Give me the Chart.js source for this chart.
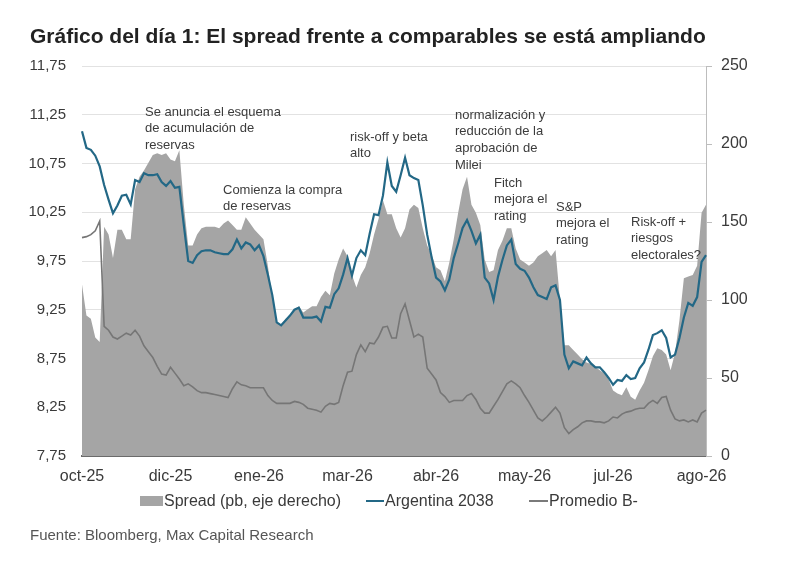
<!DOCTYPE html>
<html>
<head>
<meta charset="utf-8">
<script src="https://cdn.jsdelivr.net/npm/chart.js@4.4.1/dist/chart.umd.min.js"></script>
<style>
  html, body { margin:0; padding:0; background:#fff; }
  body { width:800px; height:562px; position:relative; overflow:hidden; font-family:"Liberation Sans", Arial, sans-serif; }
  #wrap { position:absolute; left:0; top:0; width:800px; height:562px; }
  .txt { position:absolute; white-space:nowrap; color:#3a3a3a; }
  #title { left:30px; top:24px; font-size:21px; line-height:24px; font-weight:bold; color:#222; }
  #source { left:30px; top:526px; font-size:15px; line-height:18px; color:#555; }
  .leg { top:491px; font-size:16px; line-height:20px; }
  .swatch { position:absolute; }
</style>
</head>
<body>
<div id="wrap"><canvas id="c" width="800" height="562"></canvas></div>
<div id="title" class="txt">Gráfico del día 1: El spread frente a comparables se está ampliando</div>
<div class="swatch" style="left:140px;top:496px;width:23px;height:10px;background:#a5a5a5;"></div>
<div class="txt leg" style="left:164px;">Spread (pb, eje derecho)</div>
<div class="swatch" style="left:366px;top:500px;width:18px;height:2px;background:#236886;"></div>
<div class="txt leg" style="left:385px;">Argentina 2038</div>
<div class="swatch" style="left:529px;top:500px;width:19px;height:2px;background:#7a7a7a;"></div>
<div class="txt leg" style="left:549px;">Promedio B-</div>
<div id="source" class="txt">Fuente: Bloomberg, Max Capital Research</div>
<script>
// ---- Data ----
const tickLabels = ['oct-25','dic-25','ene-26','mar-26','abr-26','may-26','jul-26','ago-26'];
const tickEvery = 20;
const leftTicks = [7.75, 8.25, 8.75, 9.25, 9.75, 10.25, 10.75, 11.25, 11.75];

const spread = [
  110, 90, 88, 76, 73, 147, 142, 127, 145, 145,
  139, 139, 171, 179, 183, 188, 193, 194, 193, 194,
  190, 189, 196, 161, 135, 135, 142, 146, 147, 147,
  147, 146, 149, 151, 148, 145, 145, 153, 149, 145,
  142, 139, 122, 101, 86, 84, 88, 90, 94, 96,
  92, 94, 96, 96, 102, 106, 103, 117, 126, 133,
  128, 116, 108, 116, 121, 130, 142, 152, 164, 155,
  155, 146, 140, 146, 158, 161, 159, 146, 135, 129,
  121, 119, 112, 124, 139, 156, 171, 179, 161, 156,
  148, 126, 118, 119, 132, 138, 146, 146, 133, 126,
  124, 122, 124, 128, 130, 132, 128, 132, 100, 71,
  71, 68, 65, 62, 60, 59, 57, 55, 53, 49,
  42, 40, 39, 44, 38, 36, 42, 47, 55, 64,
  69, 68, 65, 55, 66, 87, 114, 115, 116, 122,
  156, 161
];

const argentina2038 = [
  11.08, 10.91, 10.89, 10.83, 10.72, 10.53, 10.38, 10.24, 10.32, 10.42,
  10.43, 10.33, 10.58, 10.56, 10.65, 10.63, 10.63, 10.64, 10.56, 10.52,
  10.57, 10.50, 10.51, 10.12, 9.75, 9.73, 9.81, 9.85, 9.86, 9.86,
  9.84, 9.83, 9.82, 9.82, 9.87, 9.97, 9.88, 9.94, 9.92, 9.86,
  9.91, 9.80, 9.61, 9.40, 9.12, 9.09, 9.14, 9.19, 9.25, 9.27,
  9.17, 9.17, 9.17, 9.18, 9.13, 9.28, 9.27, 9.41, 9.47, 9.61,
  9.78, 9.60, 9.78, 9.86, 9.81, 10.03, 10.23, 10.22, 10.42, 10.76,
  10.52, 10.46, 10.63, 10.81, 10.63, 10.60, 10.58, 10.32, 10.02, 9.79,
  9.58, 9.54, 9.45, 9.56, 9.78, 9.93, 10.09, 10.17, 10.06, 9.93,
  10.02, 9.58, 9.52, 9.35, 9.59, 9.76, 9.91, 9.97, 9.72, 9.67,
  9.65, 9.58, 9.48, 9.40, 9.38, 9.36, 9.48, 9.50, 9.35, 8.79,
  8.65, 8.72, 8.70, 8.68, 8.76, 8.70, 8.66, 8.66, 8.61, 8.55,
  8.48, 8.53, 8.52, 8.58, 8.54, 8.55, 8.65, 8.71, 8.84, 8.99,
  9.01, 9.04, 8.96, 8.76, 8.79, 8.96, 9.17, 9.32, 9.29, 9.38,
  9.74, 9.81
];

const promedioBminus = [
  9.99, 10.00, 10.02, 10.06, 10.16, 9.08, 9.04, 8.97, 8.95, 8.98,
  9.01, 8.99, 9.04, 8.98, 8.88, 8.82, 8.76, 8.67, 8.59, 8.58,
  8.66, 8.60, 8.54, 8.47, 8.49, 8.46, 8.42, 8.40, 8.40, 8.39,
  8.38, 8.37, 8.36, 8.35, 8.44, 8.51, 8.48, 8.47, 8.45, 8.45,
  8.45, 8.45, 8.37, 8.32, 8.29, 8.29, 8.29, 8.29, 8.31, 8.30,
  8.28, 8.24, 8.23, 8.22, 8.20, 8.26, 8.29, 8.28, 8.30, 8.47,
  8.61, 8.62, 8.79, 8.89, 8.82, 8.91, 8.90, 8.97, 9.07, 9.08,
  8.96, 8.96, 9.21, 9.31, 9.14, 8.97, 9.00, 8.97, 8.65, 8.59,
  8.53, 8.40, 8.36, 8.30, 8.32, 8.32, 8.32, 8.37, 8.39, 8.33,
  8.24, 8.19, 8.19, 8.26, 8.33, 8.41, 8.49, 8.52, 8.49, 8.45,
  8.37, 8.30, 8.22, 8.14, 8.11, 8.15, 8.20, 8.25, 8.19, 8.04,
  7.98, 8.02, 8.05, 8.09, 8.11, 8.11, 8.10, 8.10, 8.09, 8.11,
  8.15, 8.14, 8.18, 8.20, 8.21, 8.23, 8.24, 8.24, 8.29, 8.32,
  8.29, 8.35, 8.36, 8.22, 8.13, 8.11, 8.12, 8.10, 8.12, 8.10,
  8.19, 8.22
];

const annotationTexts = [
  ['Se anuncia el esquema', 'de acumulación de', 'reservas'],
  ['Comienza la compra', 'de reservas'],
  ['risk-off y beta', 'alto'],
  ['normalización y', 'reducción de la', 'aprobación de', 'Milei'],
  ['Fitch', 'mejora el', 'rating'],
  ['S&P', 'mejora el', 'rating'],
  ['Risk-off +', 'riesgos', 'electorales?']
];
// ---- end data ----

const categories = argentina2038.map((_, i) => (i % tickEvery === 0 ? tickLabels[i / tickEvery] : ''));

// annotation anchors (reference canvas pixels of first line, relative to the plot frame)
const annoPos = [[145,112],[223,190],[350,137],[455,115],[494,183],[556,207],[631,222]];

const annoPlugin = {
  id: 'anno',
  afterDatasetsDraw(chart) {
    const ca = chart.chartArea, ctx = chart.ctx;
    const sx = ca.width / 624, sy = ca.height / 390;
    ctx.save();
    ctx.font = '13px "Liberation Sans", Arial, sans-serif';
    ctx.fillStyle = '#3c3c3c';
    ctx.textBaseline = 'middle';
    ctx.textAlign = 'left';
    annotationTexts.forEach((lines, k) => {
      const x = ca.left + (annoPos[k][0] - 82) * sx;
      const y0 = ca.top + (annoPos[k][1] - 66) * sy;
      lines.forEach((t, j) => ctx.fillText(t, x, y0 + j * 16.8));
    });
    ctx.restore();
  }
};

const fmt = v => Number(v).toFixed(2).replace('.', ',');

new Chart(document.getElementById('c'), {
  type: 'line',
  data: {
    labels: categories,
    datasets: [
      { label: 'Spread (pb, eje derecho)', data: spread, yAxisID: 'y2', fill: 'origin',
        backgroundColor: '#a5a5a5', borderWidth: 0, pointRadius: 0, tension: 0, order: 5 },
      { label: 'Argentina 2038', data: argentina2038, yAxisID: 'y', fill: false,
        borderColor: '#236886', borderWidth: 2.2, pointRadius: 0, tension: 0, order: 0 },
      { label: 'Promedio B-', data: promedioBminus, yAxisID: 'y', fill: false,
        borderColor: '#767676', borderWidth: 1.6, pointRadius: 0, tension: 0, order: 1 }
    ]
  },
  options: {
    responsive: false,
    animation: false,
    devicePixelRatio: 1,
    layout: { padding: { left: 10, right: 34, top: 66, bottom: 76 } },
    plugins: { legend: { display: false }, tooltip: { enabled: false }, title: { display: false } },
    scales: {
      x: {
        type: 'category',
        offset: false,
        grid: { color: 'rgba(0,0,0,0)', drawTicks: false },
        border: { display: true, color: '#6b6b6b', width: 2 },
        ticks: { autoSkip: false, maxRotation: 0, minRotation: 0, padding: 11,
                 color: '#3a3a3a', font: { size: 16, family: '"Liberation Sans", Arial, sans-serif' } },
        afterFit: s => { s.height = 30; }
      },
      y: {
        position: 'left',
        min: 7.75, max: 11.75,
        afterBuildTicks: s => { s.ticks = leftTicks.map(v => ({ value: v })); },
        grid: { color: '#e2e2e2', lineWidth: 1, drawTicks: false },
        border: { display: false },
        ticks: { padding: 16, color: '#3a3a3a', callback: v => fmt(v),
                 font: { size: 15, family: '"Liberation Sans", Arial, sans-serif' } },
        afterFit: s => { s.width = 72; }
      },
      y2: {
        position: 'right',
        min: 0, max: 250,
        ticks: { stepSize: 50, padding: 9, color: '#3a3a3a',
                 font: { size: 16, family: '"Liberation Sans", Arial, sans-serif' } },
        grid: { drawOnChartArea: false, drawTicks: true, tickLength: 6, color: '#bdbdbd' },
        border: { display: true, color: '#bdbdbd', width: 1 },
        afterFit: s => { s.width = 60; }
      }
    }
  },
  plugins: [annoPlugin]
});
</script>
</body>
</html>
